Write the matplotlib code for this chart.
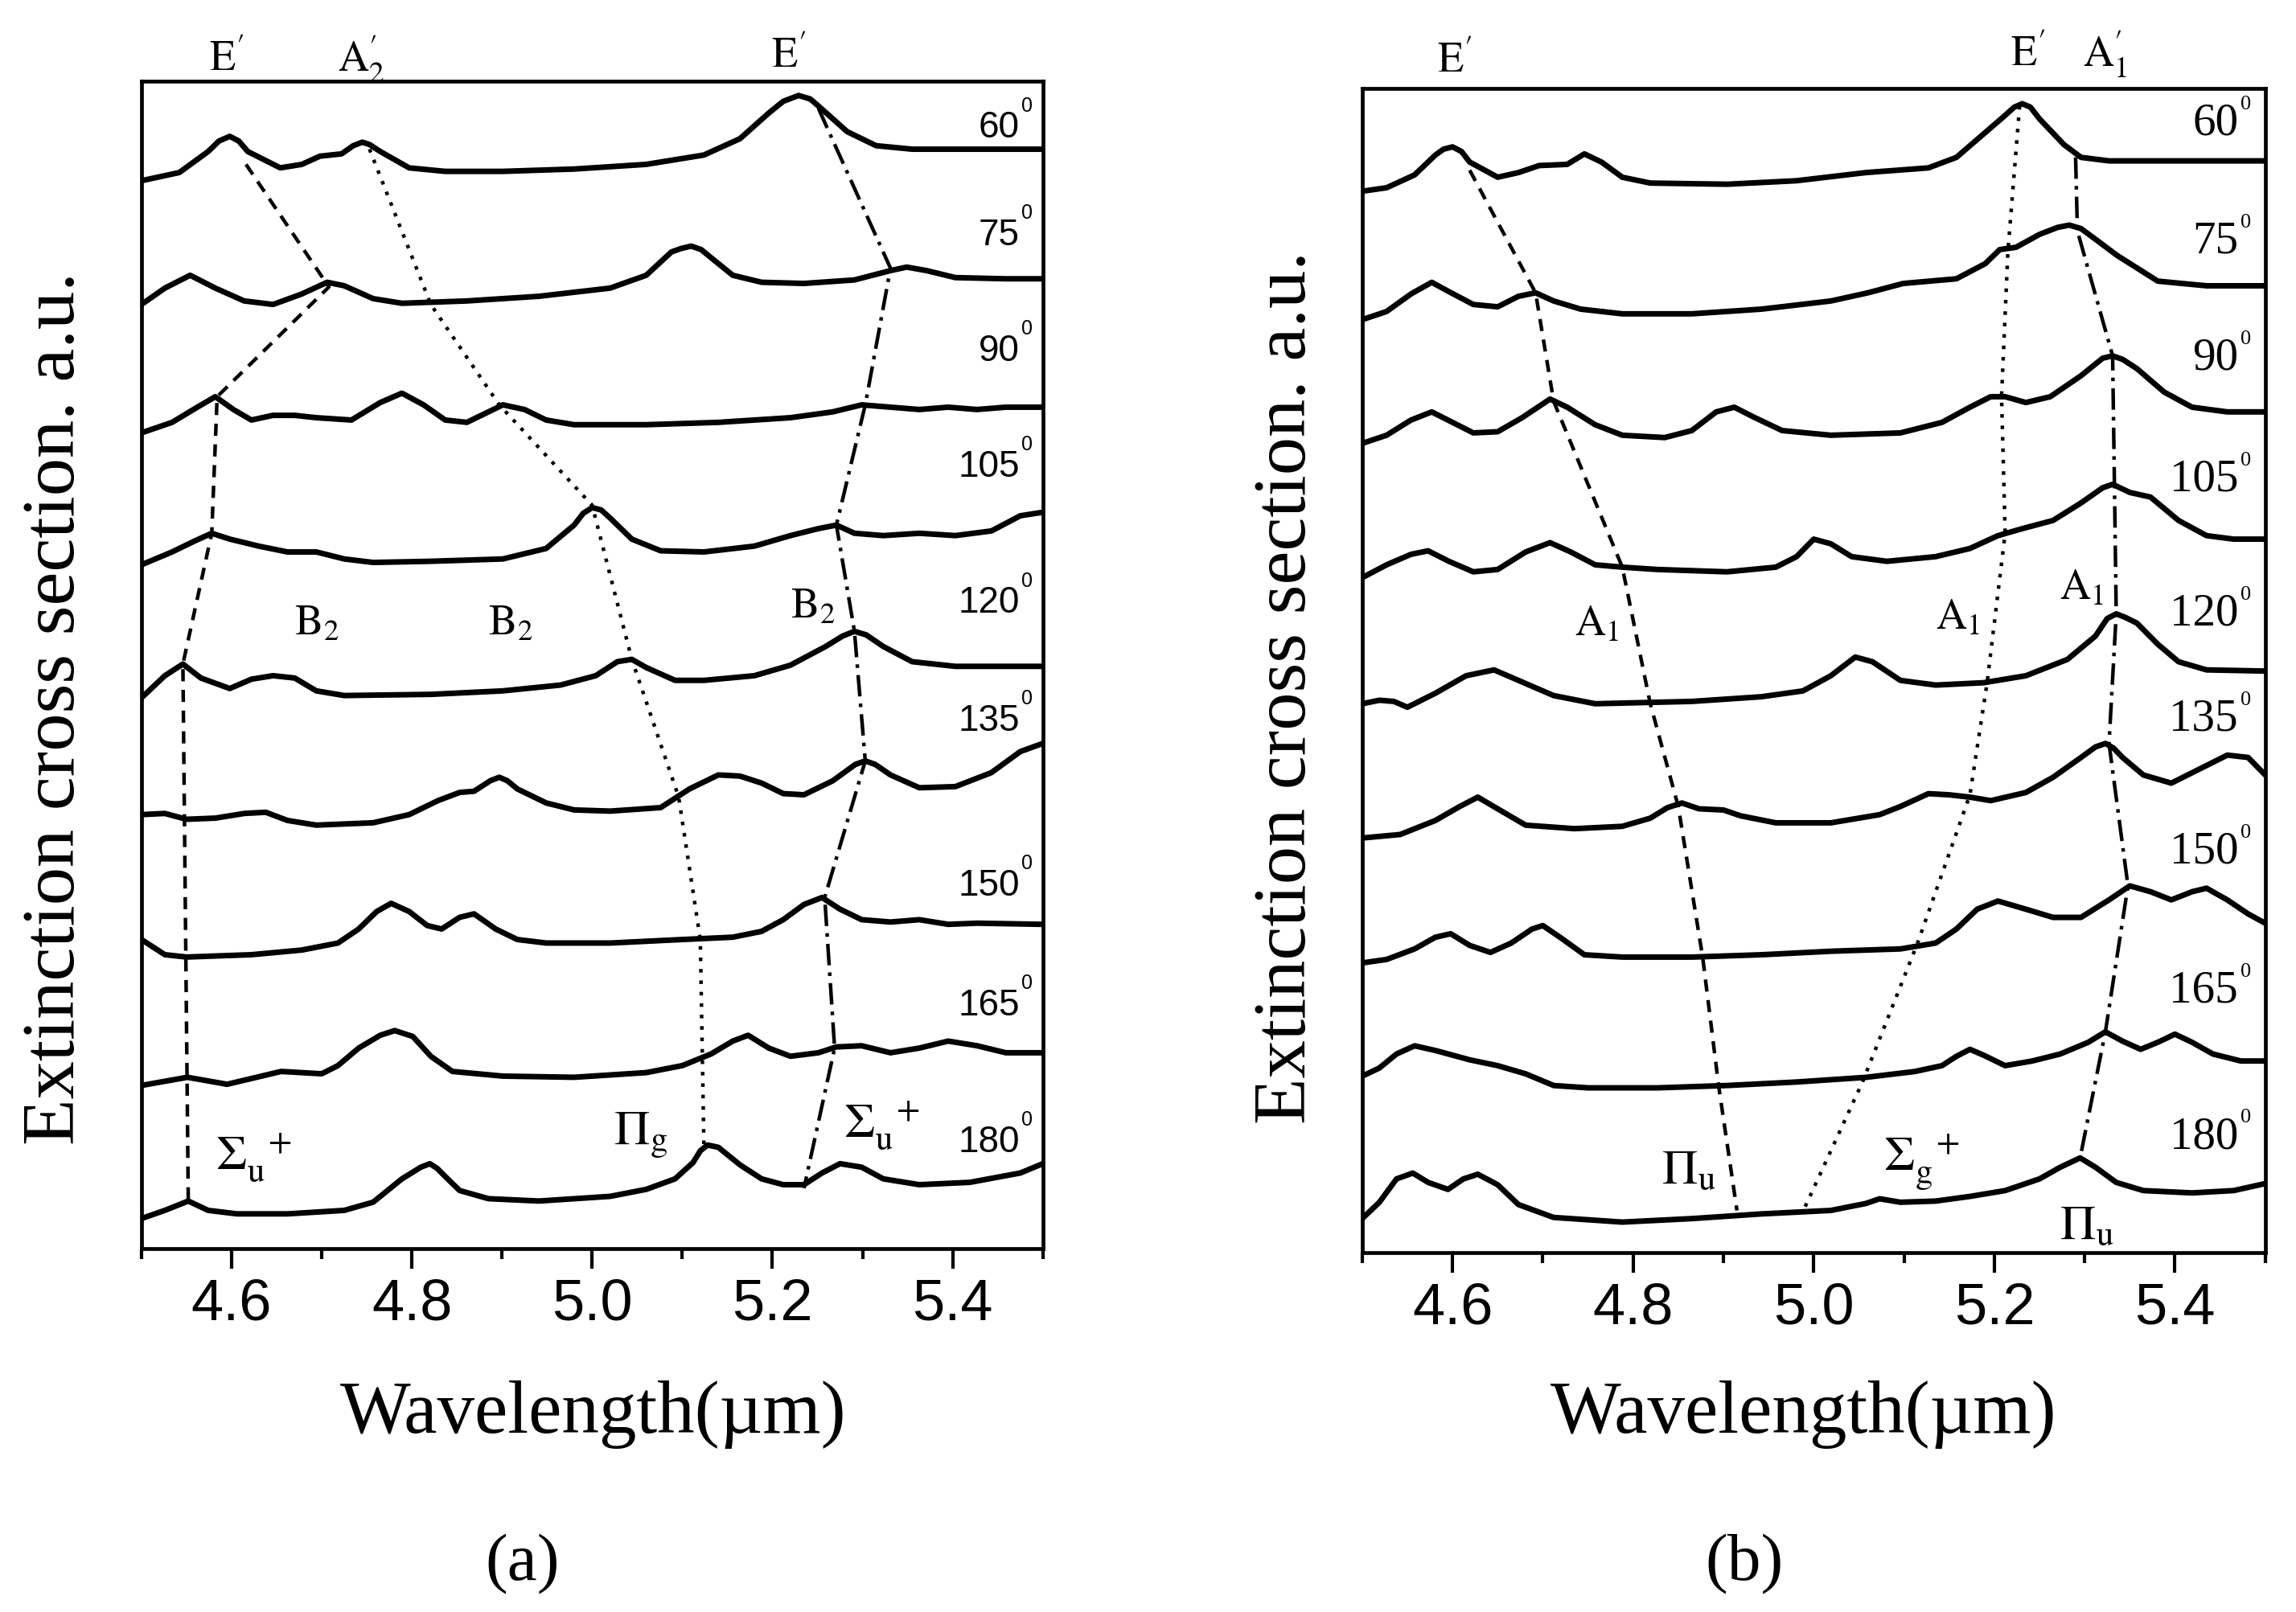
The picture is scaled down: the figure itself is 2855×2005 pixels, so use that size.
import matplotlib
matplotlib.use('Agg')
import matplotlib.pyplot as plt

plt.rcParams['font.family'] = ['Liberation Sans', 'DejaVu Sans']
plt.rcParams['mathtext.fontset'] = 'stix'

angles = [60, 75, 90, 105, 120, 135, 150, 165, 180]
xticks = [4.6, 4.8, 5.0, 5.2, 5.4]
xticklabels = ['4.6', '4.8', '5.0', '5.2', '5.4']

## panel (a) spectra, (wavelength um, stacked extinction a.u.)
a60 = [(4.500,92.1),(4.542,92.8),(4.574,94.6),(4.586,95.5),(4.598,95.9),(4.608,95.5),(4.618,94.6),(4.654,93.2),(4.678,93.5),(4.698,94.2),(4.722,94.4),(4.735,95.1),(4.745,95.4),(4.753,95.2),(4.765,94.6),(4.797,93.2),(4.837,92.9),(4.901,92.9),(4.980,93.1),(5.060,93.5),(5.124,94.3),(5.164,95.7),(5.196,97.9),(5.212,98.9),(5.229,99.4),(5.242,99.1),(5.251,98.5),(5.283,96.3),(5.315,95.1),(5.355,94.8),(5.500,94.8)]
a75 = [(4.500,81.5),(4.526,82.9),(4.554,84.0),(4.582,82.9),(4.614,81.8),(4.646,81.5),(4.678,82.4),(4.706,83.4),(4.725,83.1),(4.757,82.0),(4.789,81.6),(4.861,81.8),(4.941,82.2),(5.020,82.9),(5.060,84.0),(5.088,86.0),(5.099,86.3),(5.110,86.5),(5.121,86.2),(5.132,85.5),(5.156,84.0),(5.188,83.4),(5.235,83.3),(5.291,83.6),(5.331,84.4),(5.349,84.7),(5.371,84.4),(5.403,83.8),(5.459,83.7),(5.500,83.7)]
a90 = [(4.500,70.5),(4.534,71.4),(4.562,72.7),(4.582,73.6),(4.602,72.5),(4.622,71.6),(4.646,72.0),(4.670,72.0),(4.694,71.8),(4.733,71.6),(4.765,73.1),(4.789,73.9),(4.813,72.9),(4.837,71.6),(4.861,71.4),(4.885,72.3),(4.901,72.9),(4.925,72.5),(4.949,71.6),(4.980,71.2),(5.060,71.2),(5.140,71.4),(5.220,71.8),(5.267,72.3),(5.299,72.9),(5.331,72.7),(5.363,72.5),(5.395,72.7),(5.427,72.5),(5.459,72.7),(5.500,72.7)]
a105 = [(4.500,59.2),(4.534,60.3),(4.558,61.2),(4.578,61.9),(4.598,61.4),(4.630,60.8),(4.662,60.3),(4.694,60.3),(4.725,59.7),(4.757,59.4),(4.821,59.5),(4.901,59.7),(4.949,60.6),(4.980,62.6),(4.990,63.6),(5.000,64.1),(5.010,63.9),(5.020,63.2),(5.044,61.4),(5.076,60.4),(5.124,60.3),(5.180,60.8),(5.220,61.7),(5.251,62.3),(5.271,62.6),(5.291,61.9),(5.323,61.7),(5.363,61.9),(5.403,61.7),(5.443,62.1),(5.475,63.4),(5.500,63.7)]
a120 = [(4.500,47.8),(4.526,49.7),(4.546,50.7),(4.566,49.5),(4.598,48.6),(4.622,49.4),(4.646,49.7),(4.670,49.5),(4.694,48.4),(4.725,48.0),(4.821,48.1),(4.901,48.4),(4.965,48.9),(5.004,49.7),(5.028,50.9),(5.044,51.1),(5.060,50.4),(5.092,49.3),(5.124,49.3),(5.180,49.7),(5.220,50.6),(5.259,52.2),(5.278,53.1),(5.291,53.5),(5.304,53.2),(5.323,52.2),(5.355,50.9),(5.403,50.5),(5.500,50.5)]
a135 = [(4.500,37.8),(4.526,37.9),(4.550,37.4),(4.582,37.5),(4.614,37.9),(4.638,38.0),(4.662,37.3),(4.694,36.9),(4.757,37.1),(4.797,37.8),(4.829,39.0),(4.853,39.7),(4.869,39.8),(4.887,40.7),(4.897,41.0),(4.906,40.7),(4.917,40.0),(4.949,38.8),(4.980,38.2),(5.020,38.1),(5.076,38.4),(5.108,40.0),(5.140,41.2),(5.164,41.1),(5.188,40.5),(5.212,39.6),(5.235,39.5),(5.267,40.7),(5.292,42.1),(5.303,42.4),(5.314,42.1),(5.331,41.2),(5.363,40.1),(5.403,40.2),(5.443,41.4),(5.475,43.2),(5.500,43.9)]
a150 = [(4.500,27.1),(4.526,25.8),(4.550,25.6),(4.622,25.8),(4.678,26.2),(4.718,26.8),(4.741,28.0),(4.761,29.5),(4.777,30.2),(4.797,29.5),(4.817,28.3),(4.833,28.0),(4.853,29.0),(4.869,29.3),(4.893,28.0),(4.917,27.1),(4.949,26.8),(5.020,26.8),(5.100,27.1),(5.156,27.3),(5.188,27.8),(5.212,28.8),(5.235,30.1),(5.255,30.7),(5.275,29.7),(5.299,28.8),(5.331,28.6),(5.363,28.8),(5.395,28.4),(5.427,28.5),(5.500,28.4)]
a165 = [(4.500,14.6),(4.551,15.3),(4.595,14.7),(4.655,15.8),(4.700,15.6),(4.718,16.3),(4.741,17.8),(4.765,18.9),(4.781,19.3),(4.801,18.8),(4.821,17.1),(4.845,15.8),(4.901,15.4),(4.980,15.3),(5.060,15.7),(5.100,16.3),(5.132,17.3),(5.156,18.4),(5.173,18.9),(5.196,17.8),(5.220,17.1),(5.251,17.4),(5.271,17.9),(5.299,18.0),(5.331,17.4),(5.363,17.8),(5.395,18.4),(5.427,18.0),(5.459,17.4),(5.500,17.4)]
a180 = [(4.500,3.2),(4.526,3.9),(4.552,4.7),(4.574,3.9),(4.606,3.6),(4.662,3.6),(4.725,3.9),(4.757,4.6),(4.789,6.6),(4.810,7.6),(4.820,7.9),(4.828,7.5),(4.837,6.8),(4.853,5.6),(4.885,4.9),(4.941,4.7),(5.020,5.1),(5.060,5.7),(5.092,6.6),(5.112,8.0),(5.120,9.0),(5.128,9.5),(5.140,9.3),(5.164,7.8),(5.188,6.6),(5.212,6.1),(5.235,6.1),(5.255,7.1),(5.275,7.9),(5.299,7.6),(5.323,6.6),(5.363,6.1),(5.419,6.3),(5.475,7.1),(5.500,7.9)]

## panel (b) spectra
b60 = [(4.500,91.2),(4.527,91.5),(4.558,92.6),(4.581,94.3),(4.590,94.8),(4.600,95.0),(4.610,94.6),(4.619,93.7),(4.650,92.4),(4.673,92.8),(4.696,93.4),(4.727,93.5),(4.746,94.4),(4.765,93.7),(4.788,92.4),(4.819,91.9),(4.904,91.8),(4.981,92.1),(5.058,92.8),(5.127,93.2),(5.158,94.1),(5.188,96.1),(5.212,97.7),(5.222,98.4),(5.231,98.7),(5.240,98.4),(5.250,97.4),(5.277,95.2),(5.296,94.1),(5.327,93.8),(5.404,93.8),(5.500,93.8)]
b75 = [(4.500,80.2),(4.527,80.9),(4.554,82.4),(4.577,83.4),(4.596,82.6),(4.623,81.5),(4.650,81.3),(4.673,82.2),(4.692,82.5),(4.712,81.8),(4.742,81.1),(4.788,80.7),(4.865,80.7),(4.942,81.1),(5.019,81.8),(5.060,82.5),(5.099,83.3),(5.158,83.7),(5.190,85.0),(5.206,86.2),(5.224,86.4),(5.250,87.5),(5.270,88.1),(5.283,88.3),(5.296,88.0),(5.310,87.2),(5.336,85.7),(5.381,83.5),(5.435,83.1),(5.500,83.1)]
b90 = [(4.500,69.6),(4.527,70.3),(4.554,71.6),(4.577,72.3),(4.600,71.4),(4.623,70.5),(4.650,70.6),(4.677,71.8),(4.708,73.4),(4.727,72.7),(4.758,71.2),(4.788,70.3),(4.835,70.1),(4.865,70.7),(4.892,72.3),(4.912,72.7),(4.935,71.8),(4.965,70.7),(5.019,70.3),(5.096,70.5),(5.142,71.4),(5.173,72.7),(5.196,73.6),(5.212,73.6),(5.235,73.1),(5.262,73.6),(5.296,75.4),(5.320,76.9),(5.331,77.1),(5.342,76.8),(5.358,76.0),(5.388,74.0),(5.419,72.7),(5.458,72.3),(5.500,72.3)]
b105 = [(4.500,58.1),(4.527,59.2),(4.554,60.1),(4.573,60.4),(4.596,59.5),(4.623,58.6),(4.650,58.8),(4.681,60.3),(4.708,61.1),(4.731,60.3),(4.758,59.2),(4.788,59.0),(4.827,58.8),(4.904,58.6),(4.958,59.0),(4.981,59.9),(5.000,61.4),(5.019,61.0),(5.042,59.9),(5.081,59.5),(5.135,59.9),(5.173,60.6),(5.204,61.7),(5.231,62.3),(5.265,63.0),(5.296,64.5),(5.320,65.8),(5.331,66.1),(5.350,65.4),(5.373,65.0),(5.404,63.0),(5.435,61.7),(5.465,61.4),(5.500,61.4)]
b120 = [(4.500,47.3),(4.519,47.6),(4.535,47.5),(4.550,47.0),(4.581,48.2),(4.615,49.7),(4.646,50.2),(4.673,49.3),(4.712,48.0),(4.758,47.3),(4.865,47.5),(4.942,47.9),(4.988,48.4),(5.019,49.7),(5.046,51.3),(5.065,50.9),(5.096,49.3),(5.135,48.9),(5.188,49.1),(5.235,49.7),(5.281,51.1),(5.312,53.1),(5.325,54.6),(5.335,55.0),(5.345,54.7),(5.358,54.2),(5.381,52.4),(5.404,50.9),(5.435,50.2),(5.500,50.1)]
b135 = [(4.500,35.8),(4.542,36.1),(4.581,37.3),(4.608,38.5),(4.628,39.3),(4.650,38.3),(4.681,36.9),(4.735,36.6),(4.788,36.8),(4.819,37.5),(4.838,38.4),(4.854,38.8),(4.873,38.3),(4.900,38.2),(4.919,37.7),(4.958,37.1),(5.019,37.1),(5.073,37.8),(5.096,38.5),(5.127,39.6),(5.150,39.5),(5.173,39.3),(5.196,39.0),(5.235,39.7),(5.265,41.0),(5.296,42.7),(5.312,43.6),(5.323,43.9),(5.332,43.5),(5.342,42.7),(5.365,41.2),(5.396,40.5),(5.427,41.7),(5.458,42.9),(5.481,42.7),(5.500,41.2)]
b150 = [(4.500,25.1),(4.527,25.4),(4.558,26.3),(4.581,27.3),(4.598,27.6),(4.619,26.6),(4.642,26.0),(4.665,26.8),(4.688,28.0),(4.700,28.3),(4.719,27.3),(4.746,25.8),(4.788,25.6),(4.865,25.6),(4.942,25.8),(5.019,26.1),(5.096,26.3),(5.135,26.8),(5.158,28.0),(5.181,29.7),(5.204,30.4),(5.235,29.7),(5.265,29.0),(5.296,29.0),(5.327,30.5),(5.350,31.7),(5.373,31.2),(5.396,30.5),(5.419,31.2),(5.435,31.5),(5.458,30.5),(5.481,29.3),(5.500,28.5)]
b165 = [(4.500,15.4),(4.519,16.1),(4.538,17.3),(4.558,18.0),(4.581,17.6),(4.619,16.8),(4.650,16.3),(4.681,15.6),(4.712,14.6),(4.750,14.4),(4.827,14.4),(4.904,14.6),(4.981,14.9),(5.058,15.3),(5.112,15.8),(5.142,16.3),(5.158,17.1),(5.173,17.7),(5.188,17.2),(5.212,16.3),(5.242,16.7),(5.273,17.3),(5.304,18.3),(5.323,19.2),(5.342,18.4),(5.362,17.7),(5.381,18.3),(5.400,19.0),(5.419,18.3),(5.442,17.3),(5.473,16.7),(5.500,16.7)]
b180 = [(4.500,3.2),(4.519,4.6),(4.538,6.6),(4.556,7.1),(4.573,6.3),(4.595,5.7),(4.612,6.6),(4.628,7.0),(4.650,6.1),(4.673,4.4),(4.712,3.3),(4.788,2.9),(4.865,3.2),(4.942,3.6),(5.019,3.9),(5.058,4.5),(5.073,4.9),(5.096,4.6),(5.135,4.7),(5.173,5.1),(5.212,5.6),(5.250,6.6),(5.273,7.6),(5.295,8.4),(5.312,7.6),(5.335,6.3),(5.365,5.6),(5.419,5.4),(5.465,5.6),(5.500,6.2)]

## peak tracking lines
a_track_dash = [(4.616,93.5),(4.708,83.0),(4.584,73.6),(4.578,61.9),(4.546,50.7),(4.552,4.5)]
a_track_dot = [(4.753,94.8),(4.821,81.5),(4.897,72.9),(5.000,64.3),(5.044,51.1),(5.096,39.3),(5.120,27.1),(5.124,9.5)]
a_track_dashdot = [(5.251,98.3),(5.331,84.6),(5.303,72.9),(5.271,62.6),(5.291,53.5),(5.303,42.4),(5.258,30.7),(5.269,17.8),(5.235,5.8)]
b_track_dash = [(4.619,93.0),(4.692,82.5),(4.712,73.2),(4.788,59.0),(4.819,47.3),(4.850,38.5),(4.877,25.6),(4.895,14.4),(4.915,3.9)]
b_track_dot = [(5.228,98.5),(5.215,86.0),(5.208,73.6),(5.212,61.9),(5.192,49.1),(5.173,39.5),(5.115,26.8),(5.054,14.9),(4.988,3.8)]
b_track_dashdot = [(5.290,94.1),(5.292,87.8),(5.331,77.1),(5.333,66.1),(5.335,55.0),(5.327,43.9),(5.348,31.7),(5.323,19.2),(5.295,8.4)]

curves_a = [a60, a75, a90, a105, a120, a135, a150, a165, a180]
curves_b = [b60, b75, b90, b105, b120, b135, b150, b165, b180]

DASH = (0, (3.4, 2.4))
DOT = (0, (1.0, 2.2))
DASHDOT = (0, (6, 2, 1, 2))

fig = plt.figure(figsize=(28.55, 20.05), dpi=100)
ax_a = fig.add_axes([0.0616, 0.2254, 0.3926, 0.7242])
ax_b = fig.add_axes([0.5933, 0.2229, 0.3933, 0.7222])


def xy(pts):
    return [p[0] for p in pts], [p[1] for p in pts]


def setup(ax, ylim):
    ax.set_xlim(4.5, 5.5)
    ax.set_ylim(*ylim)
    ax.set_yticks([])
    ax.set_xticks(xticks)
    ax.set_xticklabels(xticklabels)
    ax.set_xticks([4.5, 4.7, 4.9, 5.1, 5.3, 5.5], minor=True)
    ax.tick_params(axis='x', which='major', direction='out', length=18, width=3,
                   labelsize=52, pad=8)
    ax.tick_params(axis='x', which='minor', direction='out', length=9, width=3)
    for s in ax.spines.values():
        s.set_linewidth(3.4)


def draw(ax, curves, tracks):
    for pts, ls in tracks:
        x, y = xy(pts)
        ax.plot(x, y, color='black', lw=3.2, linestyle=ls, zorder=2)
    for pts in curves:
        x, y = xy(pts)
        ax.plot(x, y, color='black', lw=5, solid_joinstyle='round',
                solid_capstyle='round', zorder=3)


setup(ax_a, (0.62, 100.62))
setup(ax_b, (0.28, 100.0))
draw(ax_a, curves_a, [(a_track_dash, DASH), (a_track_dot, DOT), (a_track_dashdot, DASHDOT)])
draw(ax_b, curves_b, [(b_track_dash, DASH), (b_track_dot, DOT), (b_track_dashdot, DASHDOT)])


def angle_labels(ax, x, ys, fam, size, supsize, dx, dy):
    for ang, y in zip(angles, ys):
        ax.text(x, y, str(ang), ha='right', va='center', family=fam, fontsize=size)
        ax.annotate('0', xy=(x, y), xytext=(dx, dy), textcoords='offset points',
                    ha='left', va='center', family=fam, fontsize=supsize)


angle_labels(ax_a, 5.474, [96.6, 87.4, 77.5, 67.6, 55.9, 45.8, 31.7, 21.45, 9.74],
             'Liberation Sans', 33, 18, 1.5, 20)
angle_labels(ax_b, 5.470, [97.0, 86.9, 76.9, 66.5, 55.0, 46.0, 34.6, 22.7, 10.2],
             'Liberation Serif', 41, 19, 2, 17)

# mode labels
top_a = [(4.575, 101.5, r'$\mathrm{E}^{\prime}$'), (4.718, 101.5, r'$\mathrm{A}_{2}^{\prime}$'),
         (5.199, 101.8, r'$\mathrm{E}^{\prime}$')]
mid_a = [(4.670, 53.2, r'$\mathrm{B}_{2}$'), (4.885, 53.2, r'$\mathrm{B}_{2}$'),
         (5.220, 54.6, r'$\mathrm{B}_{2}$')]
low_a = [(4.582, 7.45, r'$\Sigma_{\mathrm{u}}^{\ \ +}$'), (5.024, 9.5, r'$\Pi_{\mathrm{g}}$'),
         (5.279, 10.2, r'$\Sigma_{\mathrm{u}}^{\ \ +}$')]
top_b = [(4.583, 101.4, r'$\mathrm{E}^{\prime}$'), (5.218, 101.9, r'$\mathrm{E}^{\prime}$'),
         (5.298, 101.9, r'$\mathrm{A}_{1}^{\prime}$')]
mid_b = [(4.735, 53.1, r'$\mathrm{A}_{1}$'), (5.135, 53.7, r'$\mathrm{A}_{1}$'),
         (5.272, 56.2, r'$\mathrm{A}_{1}$')]
low_b = [(4.831, 6.2, r'$\Pi_{\mathrm{u}}$'), (5.077, 7.3, r'$\Sigma_{\mathrm{g}}^{\ \ +}$'),
         (5.272, 1.45, r'$\Pi_{\mathrm{u}}$')]

for ax, groups in ((ax_a, (top_a, mid_a, low_a)), (ax_b, (top_b, mid_b, low_b))):
    for grp, fs in zip(groups, (38, 38, 44)):
        for x, y, t in grp:
            ax.text(x, y, t, ha='left', va='baseline', fontsize=fs, clip_on=False)

# axis titles
serif = 'Liberation Serif'
fig.text(0.2585, 0.1112, u'Wavelength(\u00b5m)', ha='center', va='baseline', family=serif, fontsize=67)
fig.text(0.7856, 0.1112, u'Wavelength(\u00b5m)', ha='center', va='baseline', family=serif, fontsize=67)
fig.text(0.0322, 0.5606, 'Extinction cross section. a.u.', rotation=90, rotation_mode='anchor',
         ha='center', va='baseline', family=serif, fontsize=68)
fig.text(0.5685, 0.5736, 'Extinction cross section. a.u.', rotation=90, rotation_mode='anchor',
         ha='center', va='baseline', family=serif, fontsize=68)
fig.text(0.2277, 0.0200, '(a)', ha='center', va='baseline', family=serif, fontsize=60)
fig.text(0.7597, 0.0200, '(b)', ha='center', va='baseline', family=serif, fontsize=60)

fig.savefig('out.png', dpi=100)
